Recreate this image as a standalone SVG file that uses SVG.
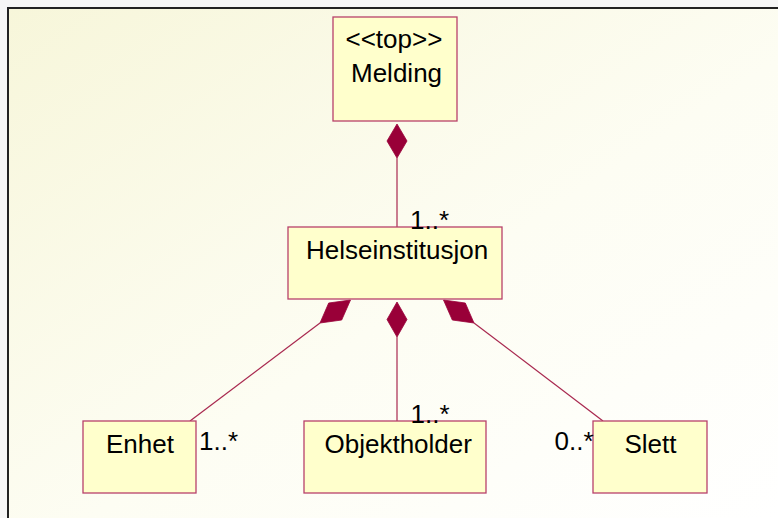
<svg xmlns="http://www.w3.org/2000/svg" width="778" height="518" viewBox="0 0 778 518">
  <defs>
    <linearGradient id="canvasFill" x1="0" y1="0" x2="1" y2="1">
      <stop offset="0" stop-color="#f7f6da"/>
      <stop offset="0.55" stop-color="#fdfdf3"/>
      <stop offset="1" stop-color="#ffffff"/>
    </linearGradient>
    <style>
      .cls { fill: #ffffcc; stroke: #b8416a; stroke-width: 1.3; }
      .lbl { font-family: "Liberation Sans", Arial, sans-serif; font-size: 26px; fill: #000; }
      .edge { stroke: #a8284f; stroke-width: 1.2; fill: none; }
      .agg { fill: #990038; stroke: #990038; stroke-width: 0.8; }
    </style>
  </defs>

  <!-- page area and frame -->
  <rect x="0" y="0" width="778" height="518" fill="#f6f6f6"/>
  <rect x="8" y="8" width="772" height="512" fill="url(#canvasFill)"/>
  <path d="M8 518 V8 H778" fill="none" stroke="#222" stroke-width="2"/>

  <!-- associations with composite aggregation diamonds -->
  <g id="connectors">
    <line class="edge" x1="397" y1="158" x2="397" y2="227"/>
    <polygon class="agg" points="397,124 407,141 397,158 387,141"/>

    <line class="edge" x1="320" y1="323" x2="190" y2="421"/>
    <polygon class="agg" points="350.5,300 341.7,320 320,323 328.7,303"/>

    <line class="edge" x1="397" y1="337" x2="397" y2="421"/>
    <polygon class="agg" points="397,302 407,319.5 397,337 387,319.5"/>

    <line class="edge" x1="474" y1="323" x2="603" y2="421"/>
    <polygon class="agg" points="443.5,300 452.3,320 474,323 465.3,303"/>
  </g>

  <g id="Melding">
    <rect class="cls" x="333" y="17" width="124" height="104"/>
    <text class="lbl" x="345.5" y="48">&lt;&lt;top&gt;&gt;</text>
    <text class="lbl" x="351" y="82">Melding</text>
  </g>

  <g id="Helseinstitusjon">
    <rect class="cls" x="288" y="227" width="214" height="72"/>
    <text class="lbl" x="306" y="259">Helseinstitusjon</text>
  </g>

  <g id="Enhet">
    <rect class="cls" x="83" y="421" width="113" height="72"/>
    <text class="lbl" x="106" y="453">Enhet</text>
  </g>

  <g id="Objektholder">
    <rect class="cls" x="304" y="421" width="182" height="72"/>
    <text class="lbl" x="324.5" y="453">Objektholder</text>
  </g>

  <g id="Slett">
    <rect class="cls" x="593" y="421" width="114" height="72"/>
    <text class="lbl" x="624.5" y="453">Slett</text>
  </g>

  <!-- multiplicities -->
  <g id="multiplicities">
    <text class="lbl" x="410" y="229">1..*</text>
    <text class="lbl" x="199" y="450">1..*</text>
    <text class="lbl" x="410.5" y="423">1..*</text>
    <text class="lbl" x="554.5" y="450">0..*</text>
  </g>
</svg>
